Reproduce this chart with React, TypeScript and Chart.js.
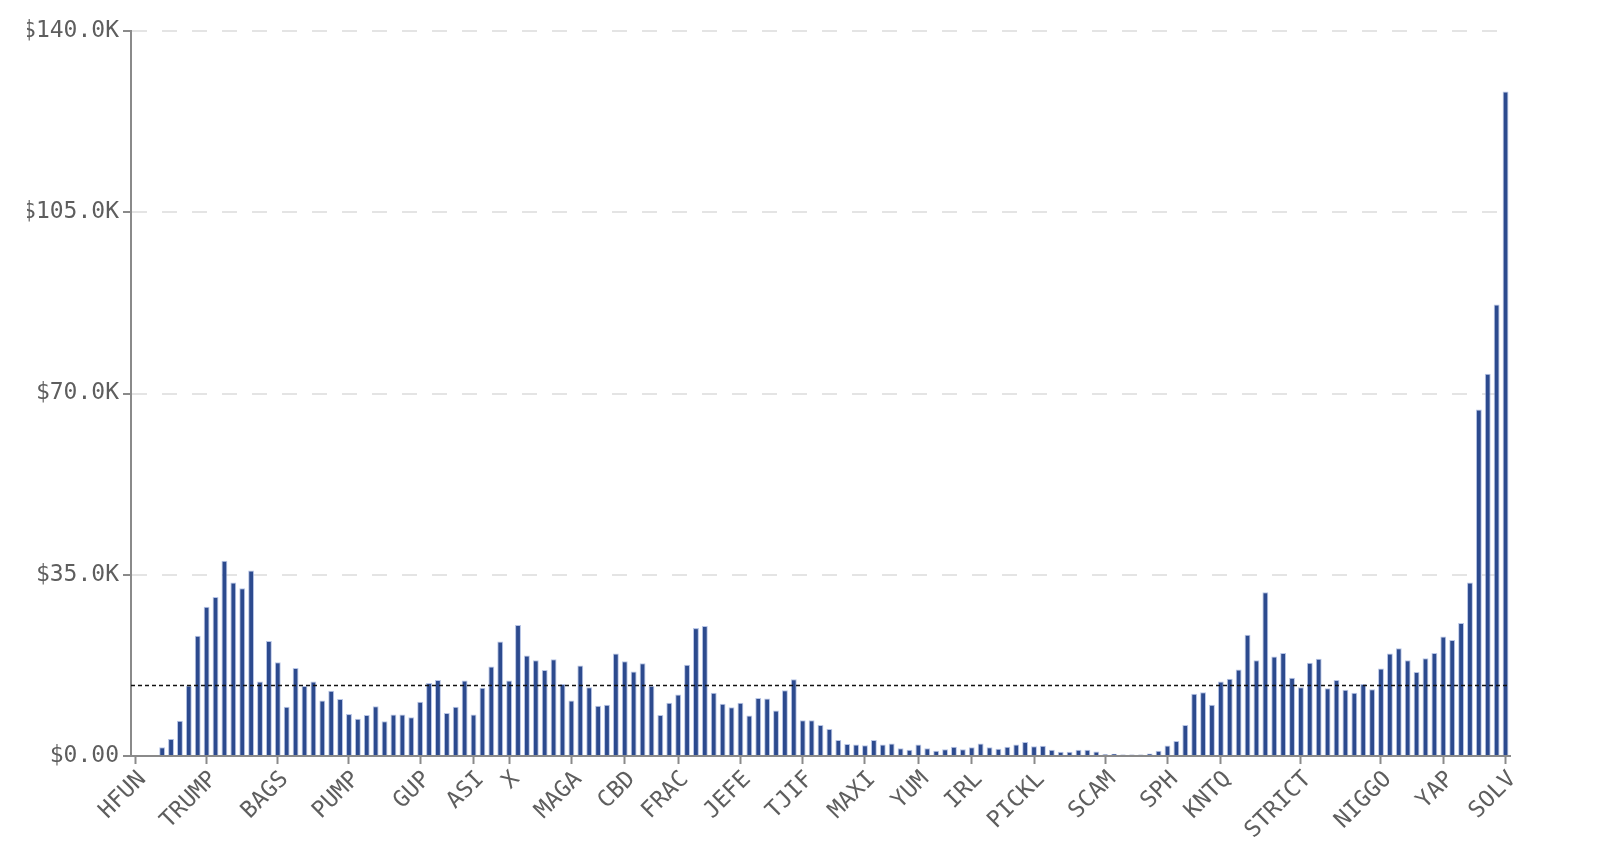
import React, { useEffect, useRef } from "react";
import { Chart, registerables } from "chart.js";

Chart.register(...registerables);

// Daily volume, in thousands of dollars, one value per token (left to right)
const volumeK: number[] = [
  0, 0, 0, 1.7, 3.3, 6.8, 13.6, 23.2, 28.8, 30.7,
  37.7, 33.5, 32.4, 35.8, 14.4, 22.2, 18.1, 9.5, 17.0, 13.5,
  14.4, 10.7, 12.6, 11.0, 8.1, 7.2, 7.9, 9.6, 6.7, 8.0,
  8.0, 7.5, 10.5, 14.1, 14.7, 8.3, 9.5, 14.6, 8.0, 13.2,
  17.3, 22.1, 14.6, 25.3, 19.4, 18.5, 16.6, 18.7, 13.9, 10.7,
  17.5, 13.3, 9.7, 9.9, 19.8, 18.3, 16.3, 17.9, 13.5, 7.9,
  10.3, 11.9, 17.6, 24.7, 25.1, 12.2, 10.1, 9.4, 10.3, 7.8,
  11.2, 11.1, 8.8, 12.7, 14.8, 6.9, 6.9, 6.0, 5.2, 3.1,
  2.3, 2.2, 2.1, 3.1, 2.2, 2.4, 1.5, 1.2, 2.2, 1.5,
  1.0, 1.3, 1.8, 1.3, 1.7, 2.4, 1.7, 1.4, 1.8, 2.2,
  2.7, 1.9, 2.0, 1.2, 0.8, 0.8, 1.2, 1.2, 0.85, 0.35,
  0.45, 0.3, 0.3, 0.3, 0.5, 1.0, 2.05, 2.9, 6.0, 12.0,
  12.3, 9.9, 14.4, 14.9, 16.7, 23.4, 18.5, 31.6, 19.2, 19.9,
  15.1, 13.3, 18.0, 18.8, 13.1, 14.7, 12.8, 12.2, 13.9, 12.9,
  16.9, 19.8, 20.8, 18.5, 16.2, 18.9, 19.9, 23.1, 22.4, 25.7,
  33.5, 66.9, 73.8, 87.2, 128.3,
];

// Positions (bar index) of the labelled tokens on the x axis, and their names
const tickIndices: number[] = [0, 8, 16, 24, 32, 38, 42, 49, 55, 61, 68, 75, 82, 88, 94, 101, 109, 116, 122, 131, 140, 147, 154];
const tickNames: string[] = ["HFUN", "TRUMP", "BAGS", "PUMP", "GUP", "ASI", "X", "MAGA", "CBD", "FRAC", "JEFE", "TJIF", "MAXI", "YUM", "IRL", "PICKL", "SCAM", "SPH", "KNTQ", "STRICT", "NIGGO", "YAP", "SOLV"];

// y axis ticks (thousands) and average reference line
const yTicksK: number[] = [0, 35, 70, 105, 140];
const averageK = 13.6;

const categories: string[] = volumeK.map((_, i) => {
  const k = tickIndices.indexOf(i);
  return k >= 0 ? tickNames[k] : "";
});

const FONT = "'DejaVu Sans Mono', 'Liberation Mono', monospace";
const TEXT = "#5e5e5e";
const AXIS = "#8a8a8a";

const averageLine = {
  id: "averageLine",
  afterDatasetsDraw(chart: any) {
    const { ctx, chartArea, scales } = chart;
    const y = scales.y.getPixelForValue(averageK);
    ctx.save();
    ctx.strokeStyle = "#111111";
    ctx.lineWidth = 1.6;
    ctx.setLineDash([4, 3]);
    ctx.beginPath();
    ctx.moveTo(chartArea.left, y);
    ctx.lineTo(chartArea.right, y);
    ctx.stroke();
    ctx.restore();
  },
};

export default function App() {
  const ref = useRef<HTMLCanvasElement | null>(null);

  useEffect(() => {
    if (!ref.current) return;
    const chart = new Chart(ref.current, {
      type: "bar",
      data: {
        labels: categories,
        datasets: [
          {
            data: volumeK,
            backgroundColor: "#2c4a8e",
            borderColor: "rgba(160,178,222,0.75)",
            borderWidth: 1,
            categoryPercentage: 1,
            barPercentage: 0.66,
          },
        ],
      },
      options: {
        animation: false,
        responsive: true,
        maintainAspectRatio: false,
        layout: { padding: { top: 31, right: 90, left: 0, bottom: 0 } },
        plugins: { legend: { display: false }, tooltip: { enabled: false } },
        scales: {
          x: {
            type: "category",
            afterFit: (scale: any) => {
              scale.height = 89;
            },
            grid: {
              offset: false,
              drawOnChartArea: false,
              drawTicks: true,
              tickLength: 8,
              tickWidth: 2,
              tickColor: (ctx: any) => (categories[ctx.index] ? AXIS : "rgba(0,0,0,0)"),
            },
            border: { display: true, color: AXIS, width: 2 },
            ticks: {
              autoSkip: false,
              maxRotation: 45,
              minRotation: 45,
              padding: 2,
              labelOffset: 7,
              color: TEXT,
              font: { family: FONT, size: 23 },
              callback: (_v: any, i: number) => categories[i],
            },
          },
          y: {
            min: 0,
            max: 140,
            afterFit: (scale: any) => {
              scale.width = 104;
            },
            afterBuildTicks: (scale: any) => {
              scale.ticks = yTicksK.map((v) => ({ value: v }));
            },
            grid: {
              color: (ctx: any) => (ctx.tick && ctx.tick.value === 0 ? "rgba(0,0,0,0)" : "#e4e4e4"),
              lineWidth: 2,
              drawTicks: true,
              tickLength: 8,
              tickWidth: 2,
              tickColor: AXIS,
              tickBorderDash: [],
            },
            border: { display: true, color: AXIS, width: 2, dash: [15, 15] },
            ticks: {
              padding: 4,
              color: TEXT,
              font: { family: FONT, size: 23 },
              callback: (v: any) => (Number(v) === 0 ? "$0.00" : `$${Number(v).toFixed(1)}K`),
            },
          },
        },
      },
      plugins: [averageLine],
    });
    return () => chart.destroy();
  }, []);

  return (
    <div style={{ position: "absolute", left: 27, top: 0, width: 1573, height: 845 }}>
      <canvas ref={ref} />
    </div>
  );
}
